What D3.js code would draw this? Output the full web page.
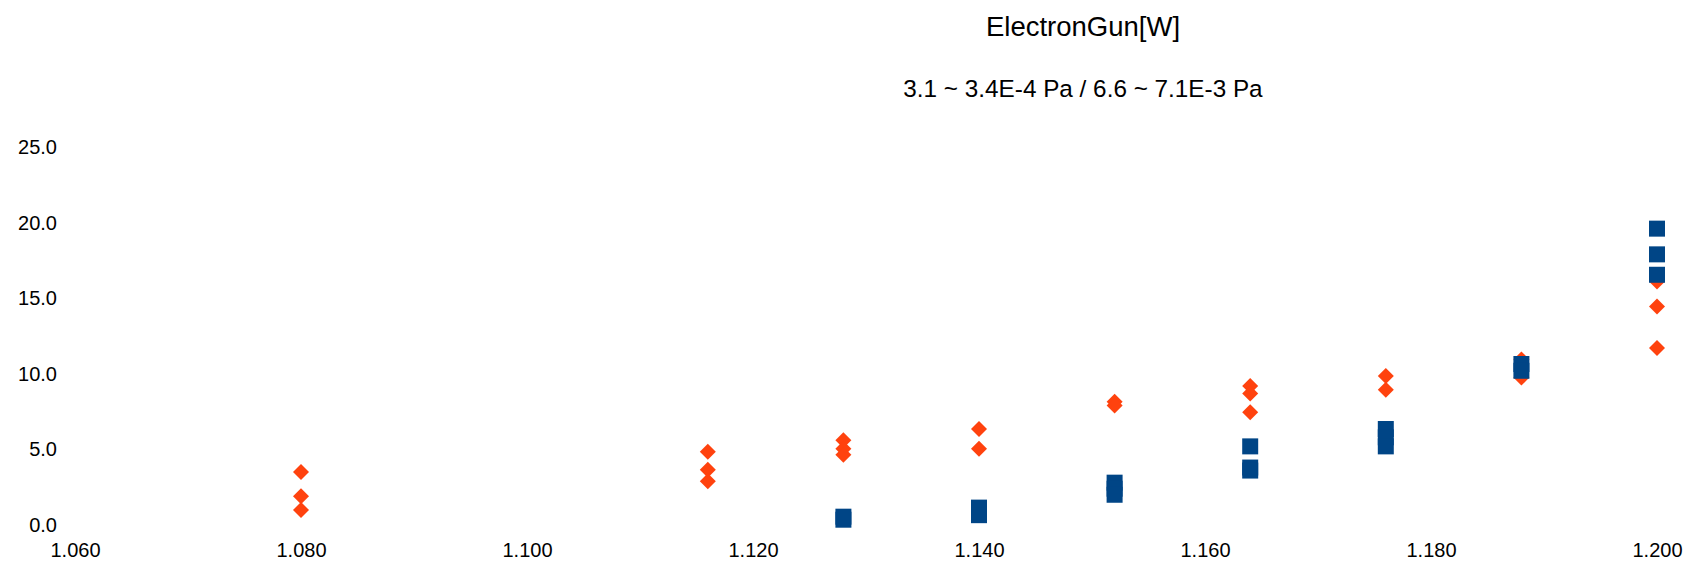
<!DOCTYPE html>
<html>
<head>
<meta charset="utf-8">
<script src="https://cdnjs.cloudflare.com/ajax/libs/d3/7.8.5/d3.min.js"></script>
<style>
    html, body { margin: 0; padding: 0; background: #fff; }
    svg { display: block; font-family: "Liberation Sans", Arial, sans-serif; }
    .tick text { fill: #000; }
</style>
</head>
<body>
<div id="chart"></div>
<script>
// chart text
const titleText = "ElectronGun[W]";
const subtitleText = "3.1 ~ 3.4E-4 Pa / 6.6 ~ 7.1E-3 Pa";

// axis ticks
const xTicks = [1.06, 1.08, 1.10, 1.12, 1.14, 1.16, 1.18, 1.20];
const yTicks = [0, 5, 10, 15, 20, 25];

// orange diamonds
const diamondX = [1.080, 1.080, 1.080, 1.116, 1.116, 1.116, 1.128, 1.128, 1.128,
    1.140, 1.140, 1.152, 1.152, 1.164, 1.164, 1.164, 1.176, 1.176,
    1.188, 1.188, 1.200, 1.200, 1.200];
const diamondY = [3.5, 1.9, 1.0, 4.85, 3.65, 2.9, 5.6, 5.05, 4.65,
    6.35, 5.05, 8.15, 7.9, 9.2, 8.7, 7.45, 9.85, 8.95,
    10.95, 9.75, 16.1, 14.45, 11.7];

// blue squares
const squareX = [1.128, 1.128, 1.140, 1.140, 1.152, 1.152, 1.152,
    1.164, 1.164, 1.164, 1.176, 1.176, 1.176, 1.188, 1.188,
    1.200, 1.200, 1.200];
const squareY = [0.55, 0.35, 1.15, 0.65, 2.8, 2.4, 2.0,
    5.2, 3.8, 3.6, 6.35, 5.8, 5.2, 10.65, 10.2,
    19.6, 17.9, 16.55];

const width = 1689, height = 568;

const svg = d3.select("#chart").append("svg")
    .attr("width", width)
    .attr("height", height);

const x = d3.scaleLinear().domain([1.06, 1.2]).range([75, 1657]);
const y = d3.scaleLinear().domain([0, 25]).range([525, 147]);

svg.append("text")
    .attr("x", 1083).attr("y", 36)
    .attr("text-anchor", "middle")
    .attr("font-size", 27.5)
    .text(titleText);

svg.append("text")
    .attr("x", 1083).attr("y", 97)
    .attr("text-anchor", "middle")
    .attr("font-size", 24.3)
    .text(subtitleText);

const xAxis = svg.append("g")
    .attr("transform", `translate(0,${y(0)})`)
    .call(d3.axisBottom(x).tickValues(xTicks).tickSize(0).tickPadding(18).tickFormat(d3.format(".3f")));

const yAxis = svg.append("g")
    .attr("transform", `translate(${x(1.06)},0)`)
    .call(d3.axisLeft(y).tickValues(yTicks).tickSize(0).tickPadding(18).tickFormat(d3.format(".1f")));

[xAxis, yAxis].forEach(g => {
    g.select(".domain").remove();
    g.selectAll("text")
        .attr("font-size", 20)
        .attr("font-family", "Liberation Sans, Arial, sans-serif");
});

const diamond = d3.symbol().type(d3.symbolSquare).size(128);
svg.append("g").selectAll("path")
    .data(d3.range(diamondX.length))
    .enter().append("path")
    .attr("d", diamond)
    .attr("transform", i => `translate(${x(diamondX[i])},${y(diamondY[i])}) rotate(45)`)
    .attr("fill", "#ff420e");

const square = d3.symbol().type(d3.symbolSquare).size(256);
svg.append("g").selectAll("path")
    .data(d3.range(squareX.length))
    .enter().append("path")
    .attr("d", square)
    .attr("transform", i => `translate(${x(squareX[i])},${y(squareY[i])})`)
    .attr("fill", "#004586");
</script>
</body>
</html>
